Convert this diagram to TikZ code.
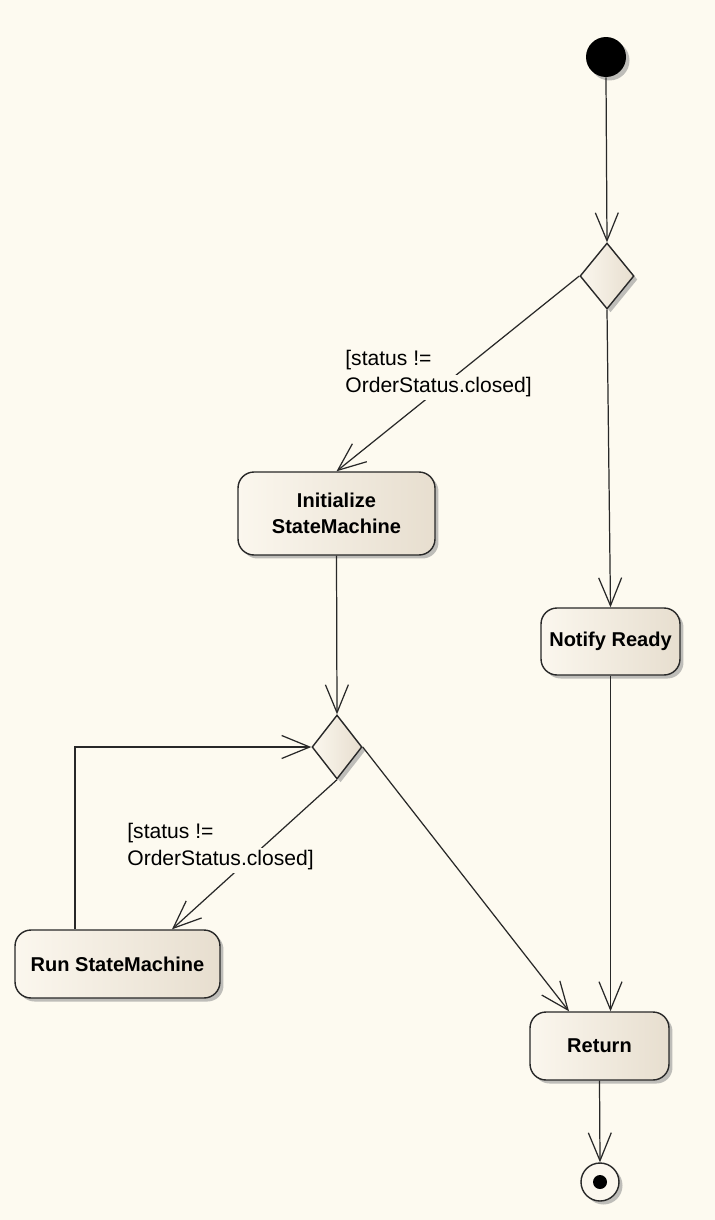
\documentclass[tikz,border=0pt]{standalone}
\usepackage{fontspec}
\setmainfont{Liberation Sans}
\usetikzlibrary{arrows.meta,shapes.geometric,shadows}
\definecolor{paper}{RGB}{253,250,240}
\definecolor{actlight}{RGB}{251,247,238}
\definecolor{actdark}{RGB}{231,222,207}
\definecolor{edgegray}{RGB}{40,40,40}
\setlength{\fboxsep}{1.5pt}

\begin{document}
\begin{tikzpicture}[x=0.02cm, y=-0.02cm, >={Straight Barb[length=5.6mm,width=4.6mm]},
	every node/.style={font=\fontsize{11}{14}\selectfont},
	flow/.style={->, draw=edgegray, line width=0.7pt},
	shade/.style={drop shadow={shadow xshift=0.07cm, shadow yshift=-0.07cm, fill=black!45, opacity=0.55}},
	action/.style={rectangle, rounded corners=0.32cm, draw=edgegray, line width=0.8pt, left color=actlight, right color=actdark, shade, align=center, inner sep=0pt, font=\fontsize{11.4}{14.5}\selectfont\bfseries},
	decision/.style={diamond, draw=edgegray, line width=0.8pt, left color=actlight, right color=actdark, shade, inner sep=0pt},
	guard/.style={align=left, inner sep=0pt, anchor=west, font=\fontsize{12}{15.5}\selectfont}]
	\fill[paper] (0,0) rectangle (715,1220);
	\useasboundingbox (0,0) rectangle (715,1220);
	\node[circle, fill=black, minimum size=0.8cm, inner sep=0pt, shade] (start) at (606,57) {};
	\node[decision, minimum width=1.08cm, minimum height=1.32cm] (dec1) at (607,276) {};
	\node[action, minimum width=3.94cm, minimum height=1.66cm] (init) at (336.5,513.5) {Initialize\\StateMachine};
	\node[action, minimum width=2.78cm, minimum height=1.34cm] (notify) at (610.5,641.5) {Notify Ready};
	\node[decision, minimum width=1.0cm, minimum height=1.28cm] (dec2) at (337,747) {};
	\node[action, minimum width=4.1cm, minimum height=1.36cm] (run) at (117.5,964) {Run StateMachine};
	\node[action, minimum width=2.78cm, minimum height=1.36cm] (ret) at (599.5,1046) {Return};
	\node[circle, draw=edgegray, fill=actlight, line width=0.8pt, minimum size=0.76cm, inner sep=0pt, shade,
		path picture={\fill[black] (path picture bounding box.center) circle (0.14cm);}] (stop) at (600,1182) {};
	\draw[flow] (start.south) -- (dec1.north);
	\draw[flow] (dec1.west) -- (init.north);
	\draw[flow] (dec1.south) -- (notify.north);
	\draw[flow] (init.south) -- (dec2.north);
	\draw[flow] ([xshift=-0.85cm]run.north) |- (dec2.west);
	\draw[flow] (dec2.south) -- ([xshift=1.09cm]run.north);
	\draw[flow] (dec2.east) -- ([xshift=-0.61cm]ret.north);
	\draw[flow] (notify.south) -- (notify.south |- ret.north);
	\draw[flow] (ret.south) -- (stop.north);
	\node[guard] (g1) at (345,375) {[status !=\\\hspace*{-\fboxsep}\colorbox{paper}{OrderStatus.closed]}};
	\node[guard] (g2) at (127,848) {[status !=\\\hspace*{-\fboxsep}\colorbox{paper}{OrderStatus.closed]}};
\end{tikzpicture}
\end{document}
